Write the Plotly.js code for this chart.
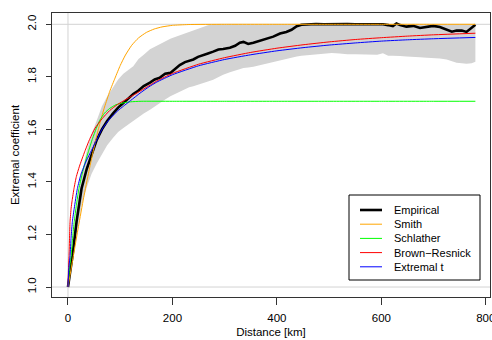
<!DOCTYPE html>
<html>
<head>
<meta charset="utf-8">
<script src="https://cdn.plot.ly/plotly-3.0.1.min.js"></script>
<style>
  html, body { margin: 0; padding: 0; background: #fff; }
  #chart { width: 492px; height: 340px; }
</style>
</head>
<body>
<div id="chart"></div>
<script>
// Empirical extremal coefficient by distance bin, with its confidence band
const empDist = [0, 8.7, 16.5, 26, 36, 45, 55, 65, 75, 86,
  96, 106, 115, 125, 135, 145, 157, 166, 176, 186,
  196, 205, 214, 224, 232, 240, 249, 259, 268, 278,
  288, 297, 310, 320, 329, 336, 345, 355, 367, 380,
  393, 406, 418, 428, 438, 447, 460, 475, 490, 505,
  520, 535, 550, 565, 580, 592, 603, 613, 622, 629,
  636, 648, 661, 674, 687, 699, 712, 725, 735, 744,
  754, 763, 773, 780];
const empVal = [1.0, 1.12, 1.25, 1.375, 1.45, 1.505, 1.56, 1.60, 1.632, 1.66,
  1.683, 1.70, 1.718, 1.735, 1.748, 1.765, 1.778, 1.79, 1.797, 1.812,
  1.815, 1.83, 1.845, 1.856, 1.862, 1.866, 1.876, 1.884, 1.889, 1.896,
  1.904, 1.906, 1.911, 1.918, 1.93, 1.933, 1.925, 1.93, 1.938, 1.946,
  1.953, 1.965, 1.971, 1.979, 1.993, 1.998, 2.0, 2.001, 2.0, 2.001,
  2.0, 2.001, 2.0, 2.0, 2.001, 2.0, 2.0, 1.997, 1.993, 2.003,
  1.997, 1.991, 1.994, 1.986, 1.99, 1.994, 1.99, 1.979, 1.972, 1.976,
  1.976, 1.971, 1.986, 1.998];
const bandHigh = [1.0, 1.16, 1.30, 1.43, 1.52, 1.58, 1.636, 1.688, 1.725, 1.76,
  1.79, 1.812, 1.826, 1.84, 1.868, 1.884, 1.905, 1.915, 1.925, 1.934,
  1.945, 1.952, 1.96, 1.967, 1.972, 1.976, 1.983, 1.99, 1.996, 2.0,
  2.0, 2.0, 2.0, 2.0, 2.0, 2.0, 2.0, 2.0, 2.0, 2.0,
  2.0, 2.0, 2.0, 2.0, 2.0, 2.0, 2.0, 2.0, 2.0, 2.0,
  2.0, 2.0, 2.0, 2.0, 2.0, 2.0, 2.0, 2.0, 2.0, 2.0,
  2.0, 2.0, 2.0, 2.0, 2.0, 2.0, 2.0, 2.0, 2.0, 2.0,
  2.0, 2.0, 2.0, 2.0];
const bandLow = [1.0, 1.09, 1.2, 1.31, 1.38, 1.43, 1.47, 1.505, 1.54, 1.567,
  1.59, 1.605, 1.618, 1.63, 1.645, 1.66, 1.675, 1.688, 1.70, 1.714,
  1.726, 1.735, 1.744, 1.752, 1.76, 1.764, 1.769, 1.775, 1.782, 1.789,
  1.799, 1.808, 1.817, 1.824, 1.83, 1.834, 1.836, 1.838, 1.844, 1.85,
  1.857, 1.864, 1.869, 1.874, 1.877, 1.88, 1.883, 1.886, 1.888, 1.891,
  1.889, 1.886, 1.886, 1.886, 1.885, 1.884, 1.89, 1.88, 1.88, 1.88,
  1.879, 1.877, 1.877, 1.875, 1.873, 1.872, 1.87, 1.866, 1.86, 1.854,
  1.852, 1.85, 1.852, 1.857];

// Fitted max-stable models
const smithDist = [0, 10, 20, 30, 40, 47, 55, 62, 70, 80, 90, 100, 110, 122, 135, 150, 165, 180, 200, 230, 300, 400, 500, 600, 700, 780];
const smithVal  = [1.0, 1.115, 1.23, 1.34, 1.44, 1.505, 1.575, 1.63, 1.685, 1.745, 1.795, 1.843, 1.883, 1.92, 1.948, 1.969, 1.982, 1.99, 1.996, 1.999, 2.0, 2.0, 2.0, 2.0, 2.0, 2.0];

const schlDist = [0, 2, 4, 6, 9, 12, 16, 21, 27, 33, 39, 47, 54, 61, 70, 80, 92, 106, 120, 140, 200, 300, 400, 500, 600, 700, 780];
const schlVal  = [1.0, 1.05, 1.09, 1.12, 1.19, 1.25, 1.31, 1.375, 1.43, 1.475, 1.515, 1.565, 1.603, 1.635, 1.662, 1.68, 1.694, 1.701, 1.705, 1.707, 1.707, 1.707, 1.707, 1.707, 1.707, 1.707, 1.707];

const brDist = [0, 1, 2, 3, 4, 6, 8, 11.5, 16, 22, 32, 42, 52, 65, 80, 95, 110, 125, 140, 155, 170, 200, 250, 300, 350, 400, 450, 500, 550, 600, 650, 700, 780];
const brVal  = [1.0, 1.07, 1.12, 1.19, 1.25, 1.30, 1.33, 1.375, 1.42, 1.46, 1.515, 1.565, 1.605, 1.64, 1.672, 1.695, 1.713, 1.73, 1.748, 1.766, 1.784, 1.813, 1.848, 1.873, 1.893, 1.909, 1.922, 1.933, 1.942, 1.949, 1.955, 1.96, 1.966];

const extDist = [0, 1, 2, 4, 6, 8.5, 12, 18, 25, 35, 45, 55, 65, 80, 95, 106, 120, 138, 155, 170, 200, 250, 300, 350, 400, 450, 500, 550, 600, 650, 700, 780];
const extVal  = [1.0, 1.05, 1.08, 1.12, 1.19, 1.25, 1.30, 1.375, 1.43, 1.48, 1.52, 1.56, 1.6, 1.64, 1.67, 1.688, 1.71, 1.738, 1.762, 1.78, 1.808, 1.842, 1.866, 1.884, 1.899, 1.911, 1.921, 1.929, 1.936, 1.941, 1.945, 1.95];

const seriesNames = ['Empirical', 'Smith', 'Schlather', 'Brown\u2212Resnick', 'Extremal t'];
const seriesColors = ['#000000', '#FFA500', '#00FF00', '#FF0000', '#0000FF'];
const seriesWidths = [2.6, 1, 1, 1, 1];

const xTicks = [0, 200, 400, 600, 800];
const yTicks = [1.0, 1.2, 1.4, 1.6, 1.8, 2.0];
const yTickText = ['1.0', '1.2', '1.4', '1.6', '1.8', '2.0'];

const FONT = 'Liberation Sans, Arial, Helvetica, sans-serif';

const traces = [];

// confidence band as a closed polygon
traces.push({
  x: empDist.concat(empDist.slice().reverse()),
  y: bandLow.concat(bandHigh.slice().reverse()),
  type: 'scatter', mode: 'lines', fill: 'toself',
  fillcolor: '#D3D3D3', line: { width: 0, color: '#D3D3D3' },
  hoverinfo: 'skip', showlegend: false
});

const curves = [
  [empDist, empVal, 'linear'],
  [smithDist, smithVal, 'spline'],
  [schlDist, schlVal, 'spline'],
  [brDist, brVal, 'spline'],
  [extDist, extVal, 'spline']
];
curves.forEach((c, i) => {
  traces.push({
    x: c[0], y: c[1], type: 'scatter', mode: 'lines', name: seriesNames[i],
    line: { color: seriesColors[i], width: seriesWidths[i], shape: c[2], smoothing: 0.5 },
    showlegend: false
  });
});

// plot area in pixels
const W = 492, H = 340;
const M = { l: 52, r: 2, t: 13, b: 43 };
const pw = W - M.l - M.r, ph = H - M.t - M.b;
const px2x = p => (p - M.l) / pw;
const py2y = p => (H - M.b - p) / ph;

// reference lines at 1, 2 and distance 0
const shapes = [
  { type: 'line', xref: 'paper', yref: 'y', x0: 0, x1: 1, y0: 1, y1: 1, line: { color: '#D3D3D3', width: 1 }, layer: 'below' },
  { type: 'line', xref: 'paper', yref: 'y', x0: 0, x1: 1, y0: 2, y1: 2, line: { color: '#D3D3D3', width: 1 }, layer: 'below' },
  { type: 'line', xref: 'x', yref: 'paper', x0: 0, x1: 0, y0: 0, y1: 1, line: { color: '#D3D3D3', width: 1 }, layer: 'below' }
];

// legend box
const lg = { left: 349, right: 480, top: 195, bottom: 280, row0: 210, step: 14.2, l0: 360, l1: 382, tx: 392 };
shapes.push({
  type: 'rect', xref: 'paper', yref: 'paper',
  x0: px2x(lg.left), x1: px2x(lg.right), y0: py2y(lg.bottom), y1: py2y(lg.top),
  line: { color: '#000', width: 1 }, fillcolor: '#fff', layer: 'above'
});
const annotations = [];
seriesNames.forEach((name, i) => {
  const yy = py2y(lg.row0 + i * lg.step);
  shapes.push({
    type: 'line', xref: 'paper', yref: 'paper',
    x0: px2x(lg.l0), x1: px2x(lg.l1), y0: yy, y1: yy,
    line: { color: seriesColors[i], width: seriesWidths[i] }, layer: 'above'
  });
  annotations.push({
    xref: 'paper', yref: 'paper', x: px2x(lg.tx), y: yy,
    xanchor: 'left', yanchor: 'middle', showarrow: false,
    text: name, font: { family: FONT, size: 11, color: '#000' }
  });
});

const layout = {
  width: W, height: H,
  margin: M,
  paper_bgcolor: '#fff', plot_bgcolor: '#fff',
  showlegend: false,
  font: { family: FONT, size: 11.5, color: '#000' },
  xaxis: {
    range: [-30.6, 808], tickvals: xTicks, ticktext: xTicks.map(String),
    ticks: 'outside', ticklen: 7, tickwidth: 1, tickcolor: '#333',
    ticklabeloverflow: 'allow', ticklabelstandoff: 3,
    showgrid: false, zeroline: false,
    showline: true, mirror: true, linecolor: '#333', linewidth: 1,
    tickfont: { family: FONT, size: 11.5, color: '#000' },
    title: { text: 'Distance [km]', font: { family: FONT, size: 11.5, color: '#000' }, standoff: 5 }
  },
  yaxis: {
    range: [0.962, 2.043], tickvals: yTicks, ticktext: yTickText, tickangle: -90,
    ticks: 'outside', ticklen: 5, tickwidth: 1, tickcolor: '#333',
    ticklabelstandoff: 5,
    showgrid: false, zeroline: false,
    showline: true, mirror: true, linecolor: '#333', linewidth: 1,
    tickfont: { family: FONT, size: 11.5, color: '#000' },
    title: { text: 'Extremal coefficient', font: { family: FONT, size: 11.5, color: '#000' }, standoff: 4 }
  },
  shapes: shapes,
  annotations: annotations
};

Plotly.newPlot('chart', traces, layout, { displayModeBar: false, staticPlot: true });
</script>
</body>
</html>
